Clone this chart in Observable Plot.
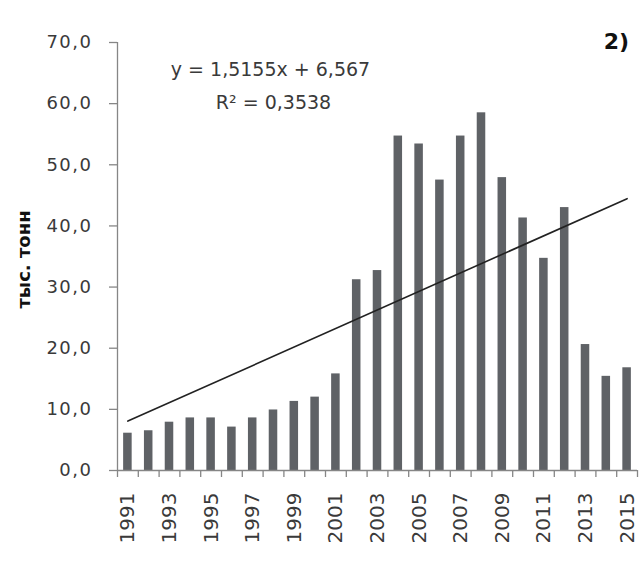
<!DOCTYPE html>
<html>
<head>
<meta charset="utf-8">
<script src="https://cdn.jsdelivr.net/npm/d3@7"></script>
<script src="https://cdn.jsdelivr.net/npm/@observablehq/plot@0.6"></script>
<style>
  body { margin: 0; background: #fff; }
  #chart svg { font-family: "DejaVu Sans", Verdana, sans-serif; }
</style>
</head>
<body>
<div id="chart"></div>
<script>
// Annual volumes, thousand tonnes
const years = [1991, 1992, 1993, 1994, 1995, 1996, 1997, 1998, 1999, 2000,
  2001, 2002, 2003, 2004, 2005, 2006, 2007, 2008, 2009, 2010,
  2011, 2012, 2013, 2014, 2015];
const values = [6.1, 6.5, 7.9, 8.6, 8.6, 7.1, 8.6, 9.9, 11.3, 12.0,
  15.8, 31.2, 32.7, 54.7, 53.4, 47.5, 54.7, 58.5, 47.9, 41.3,
  34.7, 43.0, 20.6, 15.4, 16.8];
const yTicks = [0, 10, 20, 30, 40, 50, 60, 70];
const xTickYears = years.filter((y, i) => i % 2 === 0);

// Linear trend (x = 1 … 25)
const trendSlope = 1.5155;
const trendIntercept = 6.567;
const rSquared = 0.3538;

const panelLabel = "2)";
const yLabel = "тыс. тонн";

const comma = (s) => String(s).replace(".", ",");
const fmt = (v) => comma(v.toFixed(1));

const data = years.map((year, i) => ({year, value: values[i]}));
const trendYears = [years[0], years[years.length - 1]];
const trend = trendYears.map((year) => ({
  year,
  value: trendSlope * (years.indexOf(year) + 1) + trendIntercept
}));
const equation = [
  `y = ${comma(trendSlope)}x + ${comma(trendIntercept)}`,
  `R² = ${comma(rSquared)}`
];

const W = 642, H = 568;
const mL = 117, mR = 5, mT = 42, mB = 98;
const step = (W - mL - mR) / years.length;
const axisColor = "#868686";
const textColor = "#3a3a3a";

const chart = Plot.plot({
  width: W,
  height: H,
  marginLeft: mL,
  marginRight: mR,
  marginTop: mT,
  marginBottom: mB,
  x: {type: "band", domain: years, paddingInner: 0.59, paddingOuter: 0.295, round: false, label: null},
  y: {domain: [0, 70], label: null},
  marks: [
    Plot.barY(data, {x: "year", y: "value", fill: "#5f6266"}),
    // axis lines
    Plot.ruleY([0], {stroke: axisColor, strokeWidth: 1.3}),
    Plot.ruleX([years[0]], {dx: -step / 2, stroke: axisColor, strokeWidth: 1.3}),
    // x tick marks between categories
    Plot.ruleX(years, {x: (d) => d, dx: -step / 2, y1: 0, y2: 0, insetBottom: -7, stroke: axisColor, strokeWidth: 1.3}),
    Plot.ruleX([years[years.length - 1]], {dx: step / 2, y1: 0, y2: 0, insetBottom: -7, stroke: axisColor, strokeWidth: 1.3}),
    Plot.axisY(yTicks, {
      tickFormat: fmt, tickSize: 8, tickPadding: 17, stroke: axisColor, strokeWidth: 1.3,
      fill: textColor, fontSize: 18, label: null
    }),
    Plot.axisX(xTickYears, {
      tickRotate: -90, tickSize: 0, tickPadding: 22, fill: textColor, fontSize: 20,
      tickFormat: (d) => String(d), label: null
    }),
    // trend line
    Plot.line(trend, {x: "year", y: "value", stroke: "#222", strokeWidth: 1.6}),
    // trend equation
    Plot.text([equation[0]], {frameAnchor: "top-left", textAnchor: "middle", lineAnchor: "middle",
      dx: 270 - mL, dy: 27, fontSize: 19, fill: textColor}),
    Plot.text([equation[1]], {frameAnchor: "top-left", textAnchor: "middle", lineAnchor: "middle",
      dx: 273 - mL, dy: 60, fontSize: 19, fill: textColor}),
    // panel label
    Plot.text([panelLabel], {frameAnchor: "top-right", textAnchor: "middle", lineAnchor: "middle",
      dx: -21, dy: -1, fontSize: 22, fontWeight: "bold", fill: "#111"}),
    // y axis title
    Plot.text([yLabel], {frameAnchor: "left", textAnchor: "middle", lineAnchor: "middle",
      dx: 24 - mL, dy: 3, rotate: -90, fontSize: 18, fontWeight: "bold", fill: "#111"})
  ]
});
document.getElementById("chart").append(chart);
// widen numeric tick labels
chart.querySelectorAll('[aria-label="y-axis tick label"] text').forEach((t) => t.setAttribute("letter-spacing", "1.5"));
</script>
</body>
</html>
